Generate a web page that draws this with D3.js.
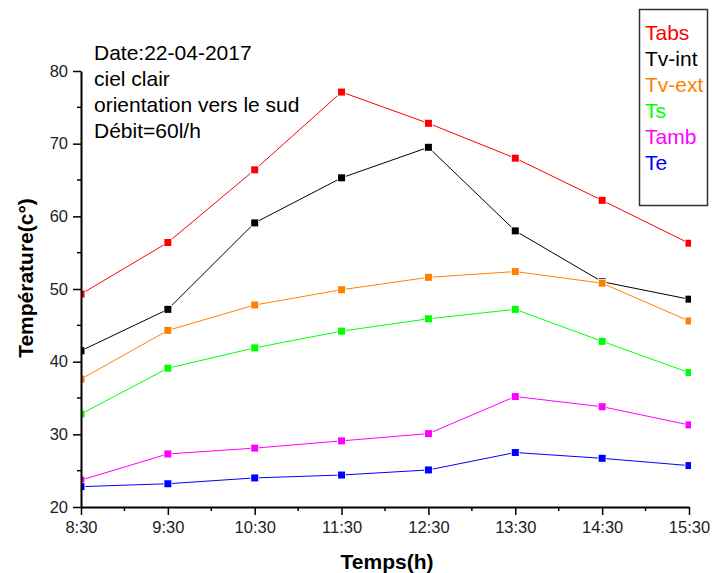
<!DOCTYPE html>
<html>
<head>
<meta charset="utf-8">
<script src="https://cdn.jsdelivr.net/npm/d3@7"></script>
<style>
  body { margin: 0; background: #fff; }
  text { font-family: Arial, "Liberation Sans", sans-serif; }
</style>
</head>
<body>
<script>
var hours = ["8:30", "9:30", "10:30", "11:30", "12:30", "13:30", "14:30", "15:30"];
var tabs  = [49.3, 56.4, 66.4, 77.1, 72.8, 68.0, 62.2, 56.3];
var tvInt = [41.5, 47.2, 59.1, 65.3, 69.5, 58.0, 51.0, 48.6];
var tvExt = [37.6, 44.3, 47.8, 49.9, 51.6, 52.4, 50.8, 45.6];
var ts    = [32.8, 39.1, 41.9, 44.2, 45.9, 47.2, 42.8, 38.5];
var tamb  = [23.7, 27.3, 28.1, 29.1, 30.1, 35.2, 33.8, 31.3];
var te    = [22.8, 23.2, 24.0, 24.4, 25.1, 27.5, 26.7, 25.7];
var seriesNames = ["Tabs", "Tv-int", "Tv-ext", "Ts", "Tamb", "Te"];
var colors = ["#ff0000", "#000000", "#ff8000", "#00ff00", "#ff00ff", "#0000ff"];
var yTicks = [20, 30, 40, 50, 60, 70, 80];
var notes = ["Date:22-04-2017", "ciel clair", "orientation vers le sud", "Débit=60l/h"];

var allSeries = [tabs, tvInt, tvExt, ts, tamb, te];

var W = 713, H = 573;
var mLeft = 81, mRight = 689, mTop = 71, mBottom = 507;

var svg = d3.select("body").append("svg")
    .attr("width", W)
    .attr("height", H);

var x = d3.scalePoint().domain(hours).range([mLeft, mRight]);
var y = d3.scaleLinear().domain([20, 80]).range([mBottom, mTop]);

svg.append("defs").append("clipPath").attr("id", "clip")
  .append("rect")
    .attr("x", mLeft).attr("y", 0)
    .attr("width", mRight - mLeft + 2).attr("height", H);

var plot = svg.append("g").attr("clip-path", "url(#clip)");

var line = d3.line()
    .x(function(d, i) { return x(hours[i]); })
    .y(function(d) { return y(d); });

allSeries.forEach(function(vals, k) {
  plot.append("path")
      .datum(vals)
      .attr("fill", "none")
      .attr("stroke", colors[k])
      .attr("stroke-width", 1)
      .attr("d", line);
});

allSeries.forEach(function(vals, k) {
  plot.selectAll(null)
      .data(vals)
    .enter().append("rect")
      .attr("x", function(d, i) { return x(hours[i]) - 3.5; })
      .attr("y", function(d) { return y(d) - 3.5; })
      .attr("width", 7)
      .attr("height", 7)
      .attr("fill", colors[k])
      .attr("stroke", "#fff")
      .attr("stroke-width", 1.5)
      .attr("paint-order", "stroke");
});

// minor ticks
var yMinor = yTicks.slice(0, -1).map(function(v) { return v + 5; });
svg.selectAll(".ymin").data(yMinor).enter().append("line")
    .attr("x1", mLeft - 4).attr("x2", mLeft)
    .attr("y1", function(d) { return y(d); })
    .attr("y2", function(d) { return y(d); })
    .attr("stroke", "#000").attr("stroke-width", 1.5);

var step = x.step();
svg.selectAll(".xmin").data(hours.slice(0, -1)).enter().append("line")
    .attr("x1", function(d) { return x(d) + step / 2; })
    .attr("x2", function(d) { return x(d) + step / 2; })
    .attr("y1", mBottom).attr("y2", mBottom + 4)
    .attr("stroke", "#000").attr("stroke-width", 1.5);

var yAxis = svg.append("g")
    .attr("transform", "translate(" + mLeft + ",0)")
    .call(d3.axisLeft(y).tickValues(yTicks).tickSize(8).tickPadding(5).tickSizeOuter(0));

var xAxis = svg.append("g")
    .attr("transform", "translate(0," + mBottom + ")")
    .call(d3.axisBottom(x).tickSize(8).tickPadding(6).tickSizeOuter(0));

[xAxis, yAxis].forEach(function(a) {
  a.attr("font-size", 16.5).attr("font-family", "Arial, 'Liberation Sans', sans-serif");
  a.select(".domain").attr("stroke-width", 2);
  a.selectAll(".tick line").attr("stroke-width", 1.5);
  a.selectAll(".tick text").attr("fill", "#222");
});

svg.append("text")
    .attr("x", 387)
    .attr("y", 569)
    .attr("text-anchor", "middle")
    .style("font-size", "21px")
    .style("font-weight", "bold")
    .text("Temps(h)");

svg.append("text")
    .attr("transform", "translate(33," + 278 + ") rotate(-90)")
    .attr("text-anchor", "middle")
    .style("font-size", "21px")
    .style("font-weight", "bold")
    .text("Température(c°)");

svg.selectAll(".note").data(notes).enter().append("text")
    .attr("x", 94)
    .attr("y", function(d, i) { return 60 + i * 26; })
    .style("font-size", "21px")
    .attr("fill", "#000")
    .text(function(d) { return d; });

// legend
svg.append("rect")
    .attr("x", 639.5).attr("y", 9.5)
    .attr("width", 68).attr("height", 196)
    .attr("fill", "none")
    .attr("stroke", "#333")
    .attr("stroke-width", 1.5);

svg.selectAll(".leg").data(seriesNames).enter().append("text")
    .attr("x", 645)
    .attr("y", function(d, i) { return 40 + i * 26; })
    .style("font-size", "21px")
    .attr("fill", function(d, i) { return colors[i]; })
    .text(function(d) { return d; });
</script>
</body>
</html>
